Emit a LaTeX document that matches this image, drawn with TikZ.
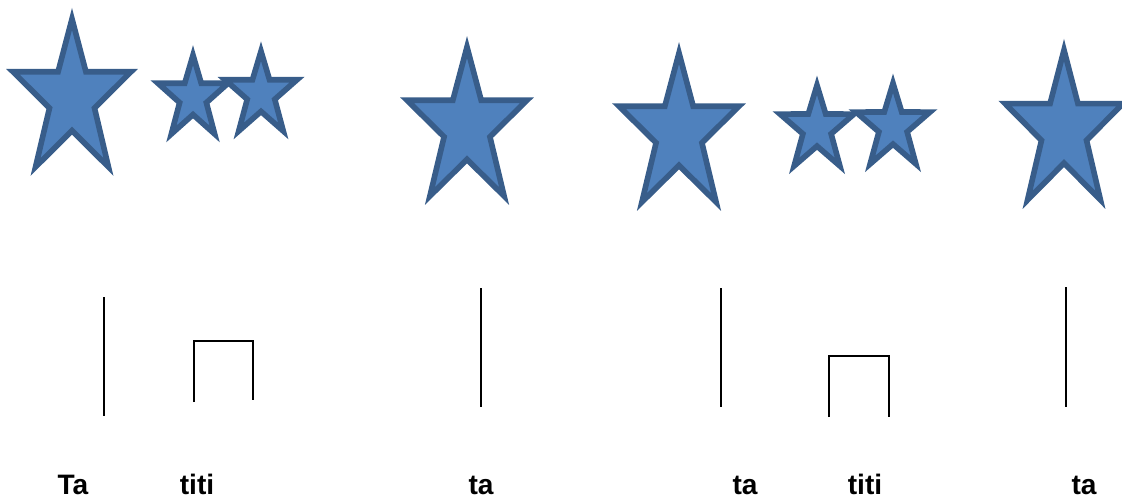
\documentclass[tikz,border=0pt]{standalone}
\usepackage{fontspec}
\setmainfont{Liberation Sans}
\usepackage{xcolor}
\usepackage{tikz}
\usetikzlibrary{positioning}

\definecolor{starfill}{HTML}{4F81BD}
\definecolor{starrim}{HTML}{385D8A}

\tikzset{
  starline/.style={fill=starfill, draw=starrim, line width=4pt, line join=miter},
  pics/rstar/.style={code={
    \draw[starline] (90:#1) \foreach \k in {1,...,9}{ -- ({90+36*\k}:{mod(\k,2)==1 ? 0.382 : 1})} -- cycle;
  }}
}

\begin{document}
\begin{tikzpicture}[x=0.025cm, y=0.025cm,
    beat/.style={line width=1.4pt},
    syl/.style={anchor=base, font=\bfseries\fontsize{20}{24}\selectfont}]
        \useasboundingbox (0,0) rectangle (1122,502);

        % stars
        \pic[xscale=62.0, yscale=85.1] (s1) at (72,403.9) {rstar=0.93};
        \pic[xscale=36.8, yscale=45.3] (s2) at (193,404.7) {rstar=0.93};
        \pic[xscale=37.9, yscale=45.9] (s3) at (261,408.1) {rstar=0.93};
        \pic[xscale=63.1, yscale=85.7] (s4) at (467,375.3) {rstar=0.93};
        \pic[xscale=63.1, yscale=85.7] (s5) at (679,369.3) {rstar=0.93};
        \pic[xscale=38.9, yscale=46.4] (s6) at (817,373.6) {rstar=0.93};
        \pic[xscale=38.9, yscale=46.4] (s7) at (893,375.6) {rstar=0.93};
        \pic[xscale=62.0, yscale=86.2] (s8) at (1064,371.8) {rstar=0.93};

        % beats
        \coordinate (ta1t) at (104,205);
        \coordinate (ta1b) at (104,86);
        \coordinate (ti1a) at (194,100);
        \coordinate (ti1b) at (194,161);
        \coordinate (ti1c) at (253,161);
        \coordinate (ti1d) at (253,102);
        \coordinate (ta2t) at (481,214);
        \coordinate (ta2b) at (481,95);
        \coordinate (ta3t) at (721,214);
        \coordinate (ta3b) at (721,95);
        \coordinate (ti2a) at (829,85);
        \coordinate (ti2b) at (829,146);
        \coordinate (ti2c) at (889,146);
        \coordinate (ti2d) at (889,85);
        \coordinate (ta4t) at (1066,215);
        \coordinate (ta4b) at (1066,95);

        \draw[beat] (ta1t) -- (ta1b);
        \draw[beat] (ti1a) -- (ti1b) -- (ti1c) -- (ti1d);
        \draw[beat] (ta2t) -- (ta2b);
        \draw[beat] (ta3t) -- (ta3b);
        \draw[beat] (ti2a) -- (ti2b) -- (ti2c) -- (ti2d);
        \draw[beat] (ta4t) -- (ta4b);

        % syllables
        \node[syl] (l1) at (73,8) {Ta};
        \node[syl] (l2) at (197,8) {titi};
        \node[syl] (l3) at (481,8) {ta};
        \node[syl] (l4) at (745,8) {ta};
        \node[syl] (l5) at (865,8) {titi};
        \node[syl] (l6) at (1084,8) {ta};
\end{tikzpicture}
\end{document}
